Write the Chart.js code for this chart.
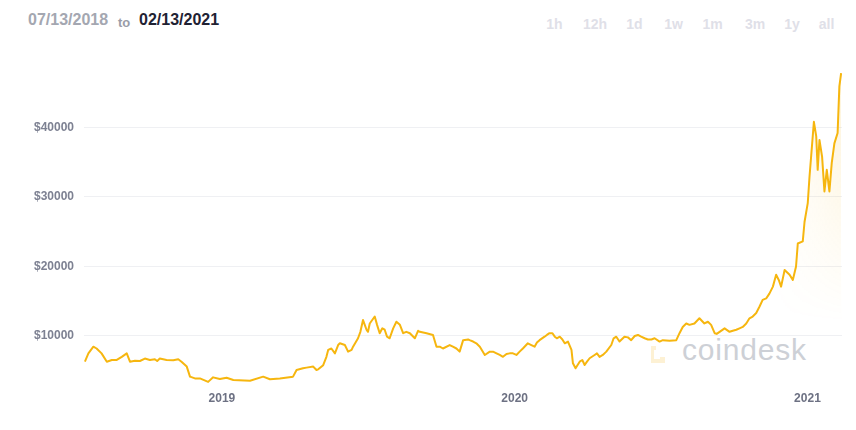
<!DOCTYPE html>
<html>
<head>
<meta charset="utf-8">
<script src="https://cdn.jsdelivr.net/npm/chart.js@4.4.1/dist/chart.umd.min.js"></script>
<style>
    html, body { margin: 0; padding: 0; background: #fff; }
    #wrap { position: relative; width: 856px; height: 430px; font-family: Helvetica, Arial, "Liberation Sans", sans-serif; }
    #grafico { position: absolute; left: 0; top: 0; z-index: 2; }
    .hdr { position: absolute; font-weight: bold; white-space: nowrap; }
    .range { position: absolute; top: 16px; font-size: 14px; font-weight: 600; color: #dfe0e8; transform: translateX(-50%); }
    #marca { position: absolute; left: 682px; top: 333px; font-size: 30px; color: #cdd0d6; z-index: 1; letter-spacing: 0.8px; }
    #logo { position: absolute; left: 649px; top: 344px; width: 18px; height: 21px; z-index: 1; }
</style>
</head>
<body>
<div id="wrap">
    <div class="hdr" style="left:28px; top:11px; font-size:16px; color:#a4a7b1;">07/13/2018</div>
    <div class="hdr" style="left:118px; top:15px; font-size:13px; color:#9a9da8;">to</div>
    <div class="hdr" style="left:139px; top:11px; font-size:16px; color:#1f2233;">02/13/2021</div>
    <div id="botoes"></div>
    <div id="marca">coindesk</div>
    <svg id="logo" viewBox="0 0 18 21">
        <path d="M2 2 L7 2 L7 6 L5 6 L5 15 L11 15 L11 13 L16 13 L16 19 L2 19 Z" fill="rgba(247,190,60,0.22)"/>
    </svg>
    <canvas id="grafico" width="856" height="430"></canvas>
</div>
<script>
// bitcoin price (USD), time as decimal year
const anos = [
    2018.532, 2018.544, 2018.561, 2018.572, 2018.589, 2018.607, 2018.624, 2018.641, 2018.658, 2018.675,
    2018.686, 2018.703, 2018.720, 2018.737, 2018.754, 2018.771, 2018.779, 2018.788, 2018.811, 2018.834,
    2018.851, 2018.862, 2018.880, 2018.891, 2018.908, 2018.925, 2018.953, 2018.970, 2018.993, 2019.016,
    2019.039, 2019.096, 2019.141, 2019.164, 2019.198, 2019.243, 2019.255, 2019.277, 2019.289, 2019.312,
    2019.323, 2019.329, 2019.346, 2019.357, 2019.363, 2019.374, 2019.386, 2019.397, 2019.403, 2019.420,
    2019.431, 2019.443, 2019.448, 2019.465, 2019.473, 2019.482, 2019.488, 2019.494, 2019.499, 2019.505,
    2019.522, 2019.530, 2019.539, 2019.548, 2019.556, 2019.564, 2019.573, 2019.585, 2019.596, 2019.608,
    2019.619, 2019.630, 2019.642, 2019.659, 2019.670, 2019.676, 2019.699, 2019.721, 2019.733, 2019.744,
    2019.755, 2019.778, 2019.789, 2019.801, 2019.812, 2019.824, 2019.841, 2019.846, 2019.858, 2019.869,
    2019.881, 2019.898, 2019.915, 2019.926, 2019.938, 2019.949, 2019.960, 2019.972, 2019.983, 2019.994,
    2020.006, 2020.017, 2020.028, 2020.045, 2020.057, 2020.068, 2020.076, 2020.085, 2020.102, 2020.110,
    2020.119, 2020.129, 2020.137, 2020.144, 2020.154, 2020.163, 2020.171, 2020.182, 2020.194, 2020.199,
    2020.208, 2020.222, 2020.231, 2020.239, 2020.247, 2020.256, 2020.273, 2020.281, 2020.290, 2020.301,
    2020.313, 2020.330, 2020.338, 2020.347, 2020.358, 2020.375, 2020.387, 2020.398, 2020.410, 2020.421,
    2020.432, 2020.444, 2020.455, 2020.467, 2020.478, 2020.495, 2020.506, 2020.529, 2020.552, 2020.563,
    2020.574, 2020.586, 2020.597, 2020.614, 2020.631, 2020.648, 2020.660, 2020.671, 2020.683, 2020.690,
    2020.700, 2020.717, 2020.734, 2020.745, 2020.757, 2020.768, 2020.779, 2020.791, 2020.802, 2020.813,
    2020.825, 2020.836, 2020.847, 2020.859, 2020.870, 2020.882, 2020.893, 2020.902, 2020.910, 2020.922,
    2020.939, 2020.950, 2020.961, 2020.967, 2020.984, 2020.990, 2021.001, 2021.007, 2021.022, 2021.030,
    2021.035, 2021.041, 2021.050, 2021.058, 2021.066, 2021.075, 2021.083, 2021.092, 2021.103, 2021.109,
    2021.115
];
const precos = [
    6300, 7500, 8460, 8200, 7500, 6300, 6550, 6550, 7000, 7500,
    6300, 6450, 6400, 6750, 6550, 6650, 6400, 6750, 6550, 6500,
    6650, 6300, 5600, 4150, 3900, 3900, 3400, 4050, 3800, 4000,
    3670, 3570, 4150, 3770, 3900, 4150, 5100, 5350, 5450, 5600,
    5100, 5200, 5800, 7000, 8000, 8200, 7500, 8700, 8950, 8700,
    7750, 8000, 8460, 9670, 10600, 12300, 11600, 10900, 10600, 11800,
    12800, 11600, 10400, 11100, 10900, 9900, 9670, 11100, 12050, 11600,
    10400, 10600, 10400, 9670, 10750, 10600, 10400, 10150, 8460, 8460,
    8200, 8700, 8460, 8200, 7750, 9400, 9500, 9400, 9200, 8950,
    8460, 7270, 7750, 7750, 7500, 7270, 7000, 7400, 7500, 7500,
    7270, 7750, 8200, 8950, 8700, 8460, 9050, 9400, 9900, 10150,
    10400, 10400, 9900, 9670, 9900, 9500, 8950, 9200, 8000, 6070,
    5350, 6300, 6550, 5830, 6300, 6800, 7270, 7500, 7000, 7270,
    7750, 8700, 9670, 9900, 9200, 9900, 9800, 9400, 10000, 10150,
    9900, 9670, 9500, 9500, 9670, 9200, 9400, 9300, 9400, 10400,
    11300, 11800, 11600, 11800, 12550, 11800, 12050, 11600, 10400, 10300,
    10600, 11100, 10600, 10750, 10900, 11100, 11300, 11800, 12550, 12800,
    13300, 14200, 15200, 15400, 16100, 17100, 18800, 18060, 17100, 19500,
    18800, 18060, 20000, 23300, 23600, 26400, 29100, 32900, 40800, 38700,
    33900, 38200, 35800, 30800, 33900, 30800, 34900, 37700, 39200, 45900,
    47800
];
const anoInicio = 2018.529;
const anoFim = 2021.118;
const ticksX = [2019, 2020, 2021];
const ticksY = [10000, 20000, 30000, 40000];
const periodos = [['1h', 554.5], ['12h', 595], ['1d', 634.5], ['1w', 673.5], ['1m', 712.5], ['3m', 755], ['1y', 792], ['all', 826.5]];

const botoes = document.getElementById('botoes');
periodos.forEach(([txt, x]) => {
    const s = document.createElement('span');
    s.className = 'range';
    s.style.left = x + 'px';
    s.textContent = txt;
    botoes.appendChild(s);
});

const amarelo = '#f6b60f';
let padraoFill = null;

function fillPadrao(context) {
    const chart = context.chart;
    const area = chart.chartArea;
    if (!area) return 'transparent';
    if (padraoFill) return padraoFill;
    const off = document.createElement('canvas');
    off.width = chart.width;
    off.height = chart.height;
    const o = off.getContext('2d');
    const gh = o.createLinearGradient(area.right - 70, 0, area.right, 0);
    gh.addColorStop(0, 'rgba(246,182,15,0)');
    gh.addColorStop(1, 'rgba(246,182,15,0.14)');
    o.fillStyle = gh;
    o.fillRect(0, 0, off.width, off.height);
    const gv = o.createLinearGradient(0, area.top + 60, 0, area.bottom - 70);
    gv.addColorStop(0, 'rgba(0,0,0,1)');
    gv.addColorStop(1, 'rgba(0,0,0,0)');
    o.globalCompositeOperation = 'destination-in';
    o.fillStyle = gv;
    o.fillRect(0, 0, off.width, off.height);
    padraoFill = chart.ctx.createPattern(off, 'no-repeat');
    return padraoFill;
}

const ctx = document.getElementById('grafico').getContext('2d');
new Chart(ctx, {
    type: 'line',
    data: {
        datasets: [{
            data: anos.map((a, i) => ({ x: a, y: precos[i] })),
            borderColor: amarelo,
            backgroundColor: fillPadrao,
            fill: 'start',
            borderWidth: 2,
            tension: 0,
            pointRadius: 0,
            borderJoinStyle: 'round'
        }]
    },
    options: {
        responsive: false,
        animation: false,
        layout: { padding: { top: 44, right: 14, bottom: 24, left: 0 } },
        plugins: { legend: { display: false }, tooltip: { enabled: false } },
        scales: {
            x: {
                type: 'linear',
                min: anoInicio,
                max: anoFim,
                afterBuildTicks: s => { s.ticks = ticksX.map(v => ({ value: v })); },
                ticks: {
                    padding: 0,
                    color: '#6d7183',
                    font: { size: 12, weight: 'bold', family: 'Helvetica, Arial, "Liberation Sans", sans-serif' },
                    callback: v => String(v),
                    maxRotation: 0
                },
                grid: { display: false, drawTicks: false },
                border: { display: false }
            },
            y: {
                min: 2000,
                max: 52000,
                afterBuildTicks: s => { s.ticks = ticksY.map(v => ({ value: v })); },
                afterFit: s => { s.width = 84; },
                ticks: {
                    padding: 10,
                    color: '#7d8192',
                    font: { size: 12, weight: 'bold', family: 'Helvetica, Arial, "Liberation Sans", sans-serif' },
                    callback: v => '$' + v
                },
                grid: { color: '#eff0f3', drawTicks: false, lineWidth: 1 },
                border: { display: false }
            }
        }
    }
});
</script>
</body>
</html>
